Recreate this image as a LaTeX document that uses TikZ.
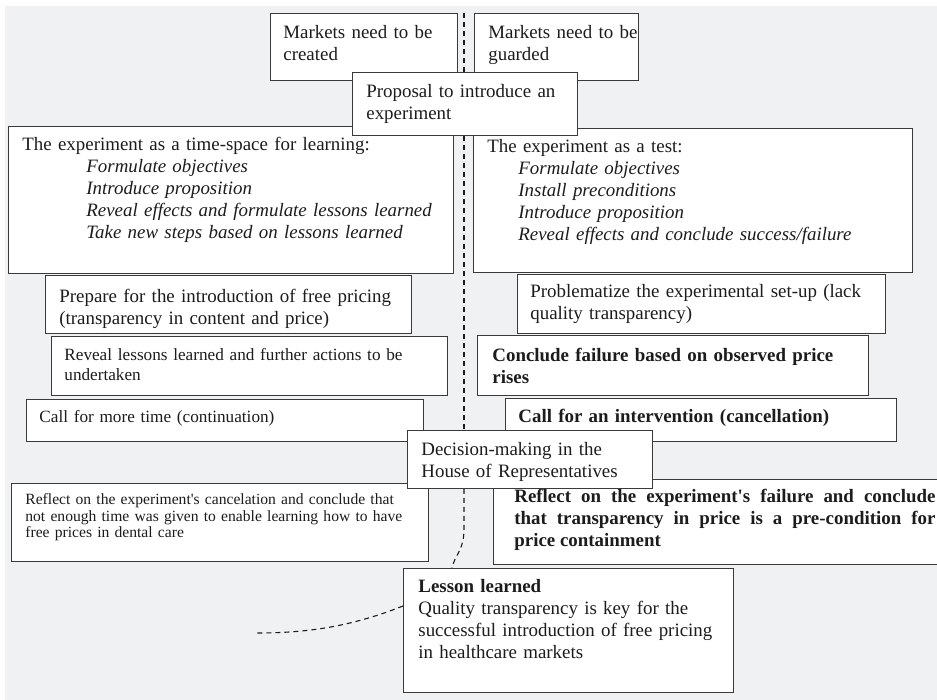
\documentclass[tikz,border=0pt]{standalone}
\usepackage{fontspec}
\setmainfont{Liberation Serif}
\definecolor{paper}{HTML}{F0F1F3}
\definecolor{edge}{HTML}{3A3A3A}
\definecolor{ink}{HTML}{1C1C1C}
\newcommand{\bigtxt}{\fontsize{18.9}{22}\selectfont}
\newcommand{\smalltxt}{\fontsize{17.2}{20}\selectfont}
\newcommand{\tinytxt}{\fontsize{15.6}{16.7}\selectfont}
\hyphenpenalty=10000
\exhyphenpenalty=10000

\begin{document}
\begin{tikzpicture}[x=1pt,y=-1pt,
  box/.style={draw=edge, fill=white, line width=0.8pt, anchor=north west,
    align=left, text=ink, font=\bigtxt, text height=14pt},
  small/.style={font=\smalltxt, text height=13pt},
  tiny/.style={font=\tinytxt, text height=11pt},
  spine/.style={draw=ink, line width=1.1pt, dash pattern=on 5pt off 4pt}]
 \useasboundingbox (0,0) rectangle (937,700);
 \fill[paper] (5,6) rectangle (937,700);

 % the two readings of the experiment
 \node[box, inner xsep=14pt, inner ysep=10pt, text width=417pt, text depth=113pt] (learning) at (8,126)
  {The experiment as a time-space for learning:\\
   \hspace*{64pt}\textit{Formulate objectives}\\
   \hspace*{64pt}\textit{Introduce proposition}\\
   \hspace*{64pt}\textit{Reveal effects and formulate lessons learned}\\
   \hspace*{64pt}\textit{Take new steps based on lessons learned}};
 \node[box, inner xsep=14pt, inner ysep=10pt, text width=411pt, text depth=110pt] (test) at (473,128)
  {The experiment as a test:\\
   \hspace*{31pt}\textit{Formulate objectives}\\
   \hspace*{31pt}\textit{Install preconditions}\\
   \hspace*{31pt}\textit{Introduce proposition}\\
   \hspace*{31pt}\textit{Reveal effects and conclude success/failure}};

 % top
 \node[box, inner xsep=13pt, inner ysep=11pt, text width=161pt, text depth=31pt] (created) at (270,13)
  {Markets need to be\\created};
 \node[box, inner xsep=14pt, inner ysep=11pt, text width=136pt, text depth=31pt] (guarded) at (474,13)
  {\mbox{Markets need to be}\\guarded};
 \node[box, inner xsep=14pt, inner ysep=11pt, text width=197pt, text depth=27pt] (proposal) at (352,72)
  {Proposal to introduce an\\experiment};

 % left column
 \node[box, inner xsep=14pt, inner ysep=13pt, text width=338pt, text depth=18pt] (prepare) at (45,275)
  {Prepare for the introduction of free pricing\\(transparency in content and price)};
 \node[box, small, inner xsep=13pt, inner ysep=11pt, text width=370pt, text depth=24pt] (reveal) at (51,336)
  {Reveal lessons learned and further actions to be\\undertaken};
 \node[box, small, inner xsep=13pt, inner ysep=10pt, text width=371pt, text depth=9pt] (moretime) at (26,399)
  {Call for more time (continuation)};

 % right column
 \node[box, inner xsep=13pt, inner ysep=9pt, text width=342pt, text depth=27pt] (problem) at (517,274)
  {Problematize the experimental set-up (lack\\quality transparency)};
 \node[box, font=\bigtxt\bfseries, inner xsep=15pt, inner ysep=12pt, text width=361pt, text depth=22pt] (failure) at (477,335)
  {Conclude failure based on observed price\\rises};
 \node[box, font=\bigtxt\bfseries, inner xsep=13pt, inner ysep=10pt, text width=365pt, text depth=9pt] (intervene) at (505,398)
  {Call for an intervention (cancellation)};

 % after the decision
 \node[box, tiny, inner xsep=14pt, inner ysep=10pt, text width=389pt, text depth=47pt] (cancel) at (11,483)
  {Reflect on the experiment\textquotesingle s cancelation and conclude that\\
   not enough time was given to enable learning how to have\\
   free prices in dental care};
 \node[box, font=\fontsize{18.9}{22}\selectfont\bfseries, align=justify, inner xsep=21pt, inner ysep=9pt,
   text width=421pt, text depth=53pt] (reflect) at (493,479)
  {Reflect on the experiment\textquotesingle s failure and conclude\linebreak
   that transparency in price is a pre-condition for\linebreak
   price containment};
 \node[box, inner xsep=15pt, inner ysep=10pt, text width=300pt, text depth=90pt] (lesson) at (403,568)
  {\textbf{Lesson learned}\\Quality transparency is key for the\\successful introduction of free pricing\\in healthcare markets};
 \node[box, inner xsep=14pt, inner ysep=11pt, text width=217pt, text depth=22pt] (house) at (407,430)
  {Decision-making in the\\House of Representatives};

 % dashed divide
 \coordinate (gap) at (464,13);
 \coordinate (loose) at (255,633);
 \draw[spine] (gap) -- (gap |- proposal.north);
 \draw[spine] (gap |- proposal.south) -- (gap |- house.north);
 \draw[spine] (gap |- house.south) -- ++(0,40) .. controls +(0,22) and +(3,-14) .. (452,0 |- lesson.north);
 \draw[spine] (lesson.west |- 0,606) .. controls (345,629) and (300,633) .. (loose);
\end{tikzpicture}
\end{document}
